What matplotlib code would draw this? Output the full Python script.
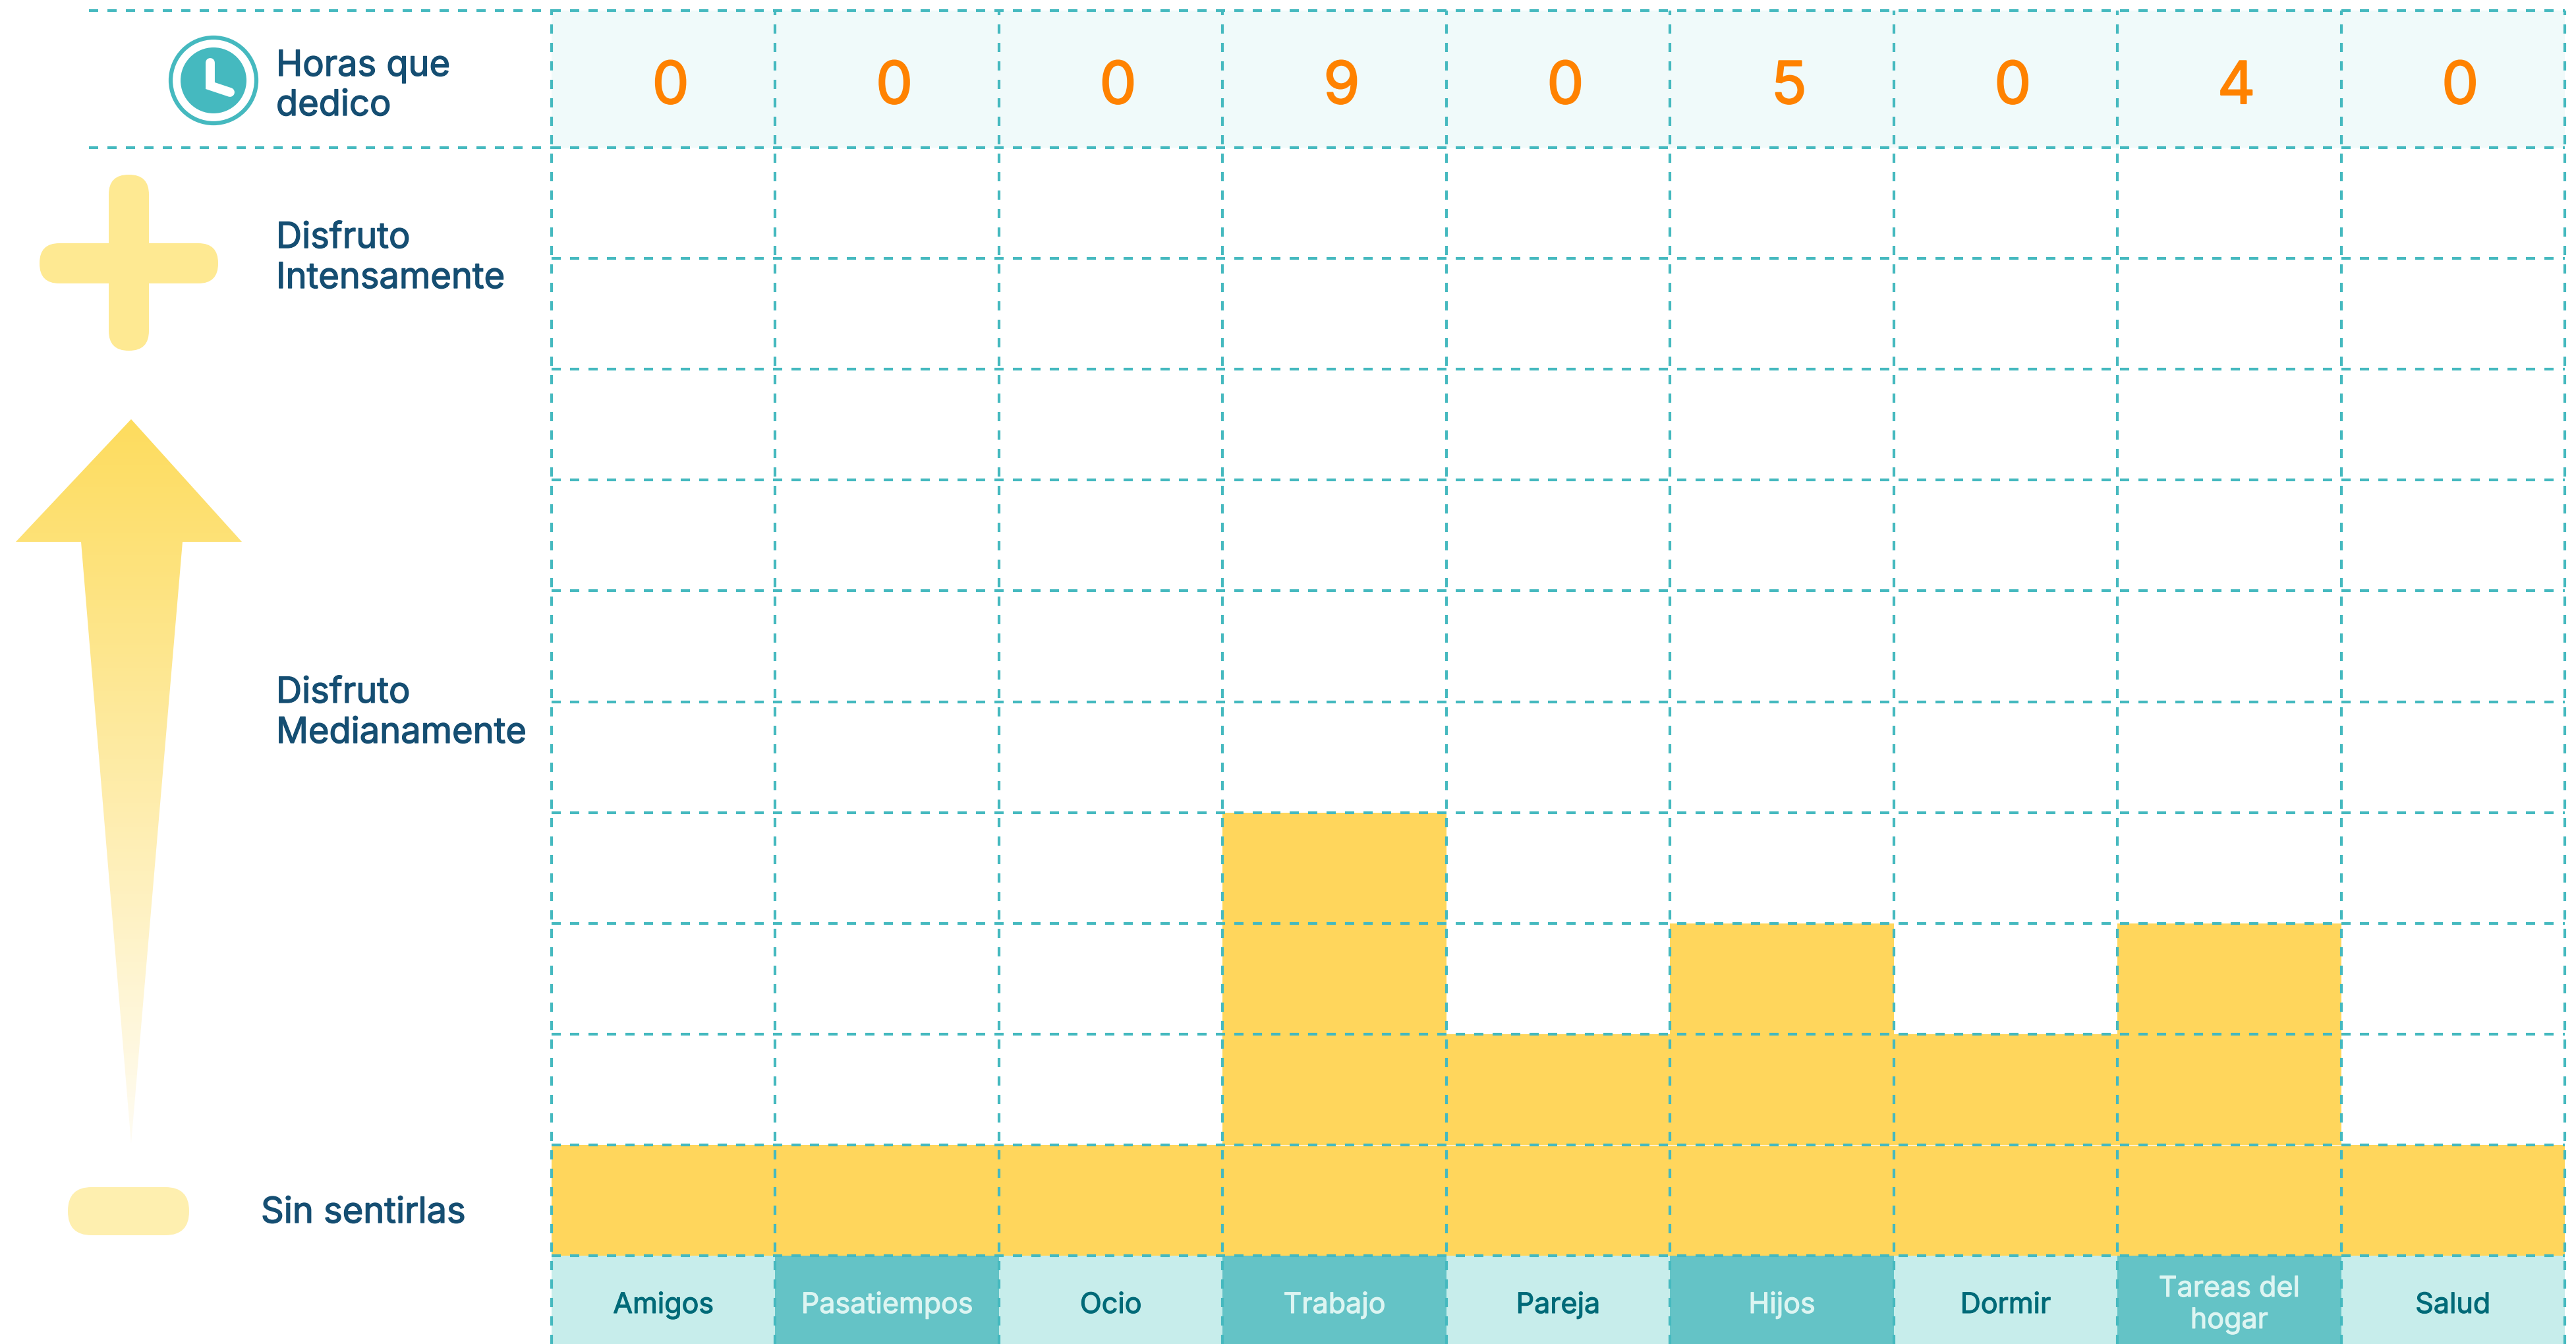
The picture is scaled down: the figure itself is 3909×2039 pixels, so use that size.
import numpy as np
import matplotlib
matplotlib.use('Agg')
import matplotlib.pyplot as plt
import matplotlib.patheffects as pe
from matplotlib.patches import Circle, FancyBboxPatch, Polygon

categorias = ['Amigos', 'Pasatiempos', 'Ocio', 'Trabajo', 'Pareja', 'Hijos', 'Dormir', 'Tareas del\nhogar', 'Salud']
horas = [0, 0, 0, 9, 0, 5, 0, 4, 0]
disfrute = [1, 1, 1, 4, 2, 3, 2, 3, 1]
filas = 10

W, H = 3909, 2039
TEAL = '#45B9BF'
AZUL = '#154E72'
plt.rcParams['font.family'] = ['Inter', 'DejaVu Sans']

fig = plt.figure(figsize=(W / 100, H / 100), dpi=100, facecolor='white')

# capa de fondo en pixeles para iconos y textos de la izquierda
bg = fig.add_axes([0, 0, 1, 1])
bg.set_xlim(0, W)
bg.set_ylim(H, 0)
bg.axis('off')

# rejilla: x en columnas, y en filas
x0, x1 = 837, 3892
y_top, y_head, y_base, y_bot = 16, 224, 1905, 2039
fila = (y_base - y_head) / filas
ax = fig.add_axes([x0 / W, 0, (x1 - x0) / W, (H - y_top) / H])
ax.patch.set_alpha(0)
ax.set_xlim(0, len(categorias))
ax.set_ylim(-(y_bot - y_base) / fila, filas + (y_head - y_top) / fila)
ax.axis('off')
cab = filas + (y_head - y_top) / fila
pie = -(y_bot - y_base) / fila

xs = np.arange(len(categorias))
ax.bar(xs, disfrute, width=1, align='edge', color='#FFD65C', zorder=1)
ax.bar(xs, cab - filas, bottom=filas, width=1, align='edge', color='#F0FAFA', zorder=1)
colores = ['#C7EDEB' if i % 2 == 0 else '#64C3C6' for i in xs]
ax.bar(xs, -pie, bottom=pie, width=1, align='edge', color=colores, zorder=1)

# linea blanca fina entre la primera fila y lo que hay encima
for i, d in enumerate(disfrute):
    if d > 1:
        ax.plot([i, i + 1], [1, 1], color='white', lw=0.8, zorder=2)

dash = (0, (3.36, 3.36))
lw = 3
for i in range(len(categorias) + 1):
    ax.plot([i, i], [pie, cab], color=TEAL, lw=lw, ls=dash, dash_capstyle='butt', zorder=3, clip_on=False)
for j in range(filas + 1):
    ax.plot([0, len(categorias)], [j, j], color=TEAL, lw=lw, ls=dash, dash_capstyle='butt', zorder=3, clip_on=False)
ax.plot([0, len(categorias)], [cab, cab], color=TEAL, lw=lw, ls=dash, dash_capstyle='butt', zorder=3, clip_on=False)
# lineas de cabecera se alargan hacia la izquierda
bg.plot([135, x0], [y_top, y_top], color=TEAL, lw=lw, ls=dash, dash_capstyle='butt')
bg.plot([135, x0], [y_head, y_head], color=TEAL, lw=lw, ls=dash, dash_capstyle='butt')


def grueso(col, w):
    # Inter solo trae un peso: se engorda con un trazo del mismo color
    return [pe.withStroke(linewidth=w, foreground=col)]


for i, h in enumerate(horas):
    ax.text(i + 0.532, filas + (y_head - 157) / fila, str(h), color='#FF8200', fontsize=64,
            ha='center', va='baseline', zorder=4, path_effects=grueso('#FF8200', 1.5))
for i, c in enumerate(categorias):
    col = '#006A78' if i % 2 == 0 else '#DDF5F2'
    if '\n' in c:
        l1, l2 = c.split('\n')
        ax.text(i + 0.5, pie + (y_bot - 1967) / fila, l1, color=col, fontsize=31, ha='center', va='baseline',
                zorder=4, path_effects=grueso(col, 0.8))
        ax.text(i + 0.5, pie + (y_bot - 2015) / fila, l2, color=col, fontsize=31, ha='center', va='baseline',
                zorder=4, path_effects=grueso(col, 0.8))
    else:
        ax.text(i + 0.5, pie + (y_bot - 1992) / fila, c, color=col, fontsize=31, ha='center', va='baseline',
                zorder=4, path_effects=grueso(col, 0.8))

# textos izquierda
for txt, xt, yt in [('Horas que', 419, 115), ('dedico', 419, 175),
                    ('Disfruto', 419, 376), ('Intensamente', 419, 437),
                    ('Disfruto', 419, 1066), ('Medianamente', 419, 1127),
                    ('Sin sentirlas', 396, 1855)]:
    bg.text(xt, yt, txt, color=AZUL, fontsize=39, ha='left', va='baseline', path_effects=grueso(AZUL, 1.0))

# reloj
bg.add_patch(Circle((324, 122), 65, fc='none', ec='#45B9BF', lw=4.5))
bg.add_patch(Circle((324, 122), 50, fc='#45B9BF', ec='none'))
bg.plot([319, 319, 349], [95, 130, 140], color='white', lw=10, solid_capstyle='round', solid_joinstyle='miter')

# signo mas y pastilla
mas = '#FEE992'
bg.add_patch(FancyBboxPatch((165 + 30, 265 + 30), 1, 207, boxstyle='round,pad=30,rounding_size=30', fc=mas, ec='none'))
bg.add_patch(FancyBboxPatch((60 + 30, 369 + 30), 211, 1, boxstyle='round,pad=30,rounding_size=30', fc=mas, ec='none'))
bg.add_patch(FancyBboxPatch((103 + 36, 1801 + 36), 112, 1, boxstyle='round,pad=36,rounding_size=36', fc='#FEEFAF', ec='none'))

# flecha con degradado
flecha = Polygon([(199, 636), (367, 822), (277, 822), (199, 1734), (123, 822), (24, 822)], closed=True, fc='none', ec='none')
bg.add_patch(flecha)
grad = np.linspace(0, 1, 256).reshape(-1, 1, 1)
top = np.array([253, 220, 94]) / 255
bottom = np.array([255, 252, 243]) / 255
img = top + (bottom - top) * grad
im = bg.imshow(img, extent=[24, 367, 1734, 636], aspect='auto', zorder=2)
im.set_clip_path(flecha)
bg.set_xlim(0, W)
bg.set_ylim(H, 0)

fig.savefig('out.png', dpi=100)
